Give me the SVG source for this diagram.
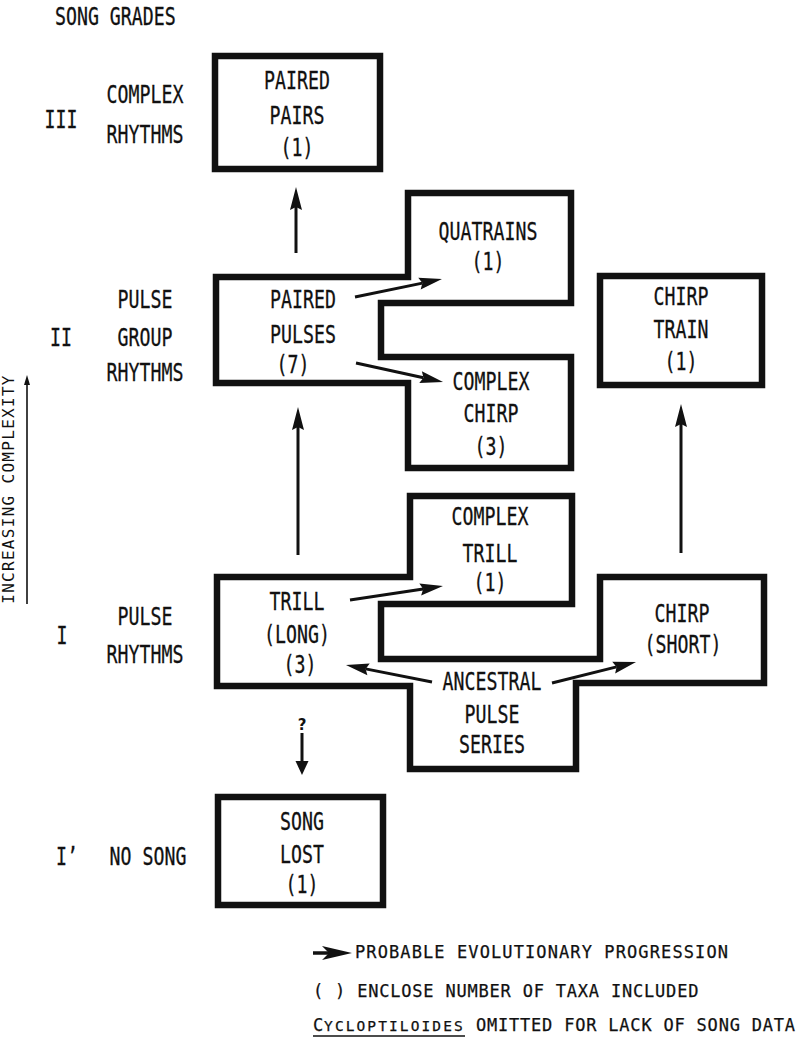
<svg xmlns="http://www.w3.org/2000/svg" width="798" height="1039" viewBox="0 0 798 1039">
<style>
.bg{fill:#fff}
.box{fill:none;stroke:#111;stroke-width:6.5;stroke-linejoin:miter}
.t{font-family:"DejaVu Sans Mono","Liberation Mono",monospace;font-size:24px;fill:#111;stroke:#111;stroke-width:0.3;text-anchor:middle}
.ts{font-family:"DejaVu Sans Mono","Liberation Mono",monospace;font-size:24px;fill:#111;stroke:#111;stroke-width:0.3;text-anchor:start}
.lg{font-family:"DejaVu Sans Mono","Liberation Mono",monospace;font-size:17px;fill:#111;stroke:#111;stroke-width:0.25;letter-spacing:0.8px}
.ax{font-family:"DejaVu Sans Mono","Liberation Mono",monospace;font-size:16px;fill:#111;letter-spacing:1.3px;text-anchor:middle}
.arr{stroke:#111;stroke-width:3;fill:none}
.thin{stroke:#111;stroke-width:1.6;fill:none}
</style>
<defs>
<marker id="ah" markerUnits="userSpaceOnUse" markerWidth="30" markerHeight="16" viewBox="0 -8 26 16" refX="3" refY="0" orient="auto">
<path d="M0,-6 L23,0 L0,6 L3,0 Z" fill="#111"/>
</marker>
<marker id="ahs" markerUnits="userSpaceOnUse" markerWidth="20" markerHeight="16" viewBox="0 -8 16 16" refX="1" refY="0" orient="auto">
<path d="M0,-6.5 L14,0 L0,6.5 Z" fill="#111"/>
</marker>
<marker id="axh" markerUnits="userSpaceOnUse" markerWidth="12" markerHeight="10" viewBox="0 -5 12 10" refX="1" refY="0" orient="auto">
<path d="M0,-3 L10,0 L0,3 Z" fill="#111"/>
</marker>
</defs>
<rect class="bg" x="0" y="0" width="798" height="1039"/>

<g id="grade-labels">
<text class="ts" transform="translate(55,25) scale(0.76,1)">SONG GRADES</text>
<text class="t" transform="translate(61,128) scale(0.76,1)">III</text>
<text class="t" transform="translate(145,103) scale(0.76,1)">COMPLEX</text>
<text class="t" transform="translate(145,143) scale(0.76,1)">RHYTHMS</text>
<text class="t" transform="translate(61,346) scale(0.76,1)">II</text>
<text class="t" transform="translate(145,308) scale(0.76,1)">PULSE</text>
<text class="t" transform="translate(145,346) scale(0.76,1)">GROUP</text>
<text class="t" transform="translate(145,381) scale(0.76,1)">RHYTHMS</text>
<text class="t" transform="translate(62,644) scale(0.76,1)">I</text>
<text class="t" transform="translate(145,625) scale(0.76,1)">PULSE</text>
<text class="t" transform="translate(145,663) scale(0.76,1)">RHYTHMS</text>
<text class="ts" transform="translate(56,865) scale(0.76,1)">I’</text>
<text class="t" transform="translate(148,865) scale(0.76,1)">NO SONG</text>
</g>

<g id="axis">
<line class="thin" x1="27" y1="604" x2="27" y2="384" marker-end="url(#axh)"/>
<text class="ax" transform="translate(14,489) rotate(-90)">INCREASING COMPLEXITY</text>
</g>

<g id="paired-pairs">
<rect class="box" x="215" y="56" width="165" height="113"/>
<text class="t" transform="translate(297,89) scale(0.76,1)">PAIRED</text>
<text class="t" transform="translate(297,124) scale(0.76,1)">PAIRS</text>
<text class="t" transform="translate(297,156) scale(0.76,1)">(1)</text>
</g>

<g id="grade2-cluster">
<path class="box" d="M216,277 H408 V193 H571 V303 H381 V357 H571 V468 H408 V383 H216 Z"/>
<g id="paired-pulses">
<text class="t" transform="translate(303,308) scale(0.76,1)">PAIRED</text>
<text class="t" transform="translate(303,343) scale(0.76,1)">PULSES</text>
<text class="t" transform="translate(293,373) scale(0.76,1)">(7)</text>
</g>
<g id="quatrains">
<text class="t" transform="translate(488,240) scale(0.76,1)">QUATRAINS</text>
<text class="t" transform="translate(488,270) scale(0.76,1)">(1)</text>
</g>
<g id="complex-chirp">
<text class="t" transform="translate(491,390) scale(0.76,1)">COMPLEX</text>
<text class="t" transform="translate(491,422) scale(0.76,1)">CHIRP</text>
<text class="t" transform="translate(491,455) scale(0.76,1)">(3)</text>
</g>
</g>

<g id="chirp-train">
<rect class="box" x="600" y="276" width="162" height="109"/>
<text class="t" transform="translate(681,305) scale(0.76,1)">CHIRP</text>
<text class="t" transform="translate(681,338) scale(0.76,1)">TRAIN</text>
<text class="t" transform="translate(681,370) scale(0.76,1)">(1)</text>
</g>

<g id="grade1-cluster">
<path class="box" d="M217,577 H410 V496 H572 V604 H381 V659 H600 V577 H764 V683 H576 V769 H410 V686 H217 Z"/>
<g id="trill-long">
<text class="t" transform="translate(297,610) scale(0.76,1)">TRILL</text>
<text class="t" transform="translate(297,643) scale(0.76,1)">(LONG)</text>
<text class="t" transform="translate(300,673) scale(0.76,1)">(3)</text>
</g>
<g id="complex-trill">
<text class="t" transform="translate(490,525) scale(0.76,1)">COMPLEX</text>
<text class="t" transform="translate(490,562) scale(0.76,1)">TRILL</text>
<text class="t" transform="translate(490,591) scale(0.76,1)">(1)</text>
</g>
<g id="chirp-short">
<text class="t" transform="translate(682,622) scale(0.76,1)">CHIRP</text>
<text class="t" transform="translate(683,653) scale(0.76,1)">(SHORT)</text>
</g>
<g id="ancestral-pulse-series">
<text class="t" transform="translate(492,690) scale(0.76,1)">ANCESTRAL</text>
<text class="t" transform="translate(492,723) scale(0.76,1)">PULSE</text>
<text class="t" transform="translate(492,753) scale(0.76,1)">SERIES</text>
</g>
</g>

<g id="song-lost">
<rect class="box" x="218" y="797" width="165" height="108"/>
<text class="t" transform="translate(302,830) scale(0.76,1)">SONG</text>
<text class="t" transform="translate(302,863) scale(0.76,1)">LOST</text>
<text class="t" transform="translate(302,893) scale(0.76,1)">(1)</text>
</g>

<g id="connectors">
<line class="arr" x1="296" y1="253" x2="296" y2="207" marker-end="url(#ah)"/>
<line class="arr" x1="298" y1="555" x2="298" y2="427" marker-end="url(#ah)"/>
<line class="arr" x1="681" y1="553" x2="681" y2="424" marker-end="url(#ah)"/>
<line class="arr" x1="355" y1="297" x2="422.4" y2="283.1" marker-end="url(#ah)"/>
<line class="arr" x1="356" y1="363" x2="423.5" y2="377.7" marker-end="url(#ah)"/>
<line class="arr" x1="350" y1="600" x2="423.2" y2="589" marker-end="url(#ah)"/>
<line class="arr" x1="432" y1="682" x2="365.6" y2="668.9" marker-end="url(#ah)"/>
<line class="arr" x1="552" y1="683" x2="616.6" y2="666.9" marker-end="url(#ah)"/>
<line class="arr" x1="302" y1="733" x2="302" y2="762" marker-end="url(#ahs)"/>
<text x="302" y="730" style="font-family:'DejaVu Sans','Liberation Sans',sans-serif;font-size:15px;font-weight:bold;fill:#111;text-anchor:middle">?</text>
</g>

<g id="legend">
<line x1="313" y1="953" x2="330" y2="953" stroke="#111" stroke-width="3.5"/>
<path d="M352,953 L322,946 L329,953 L322,960 Z" fill="#111"/>
<text class="lg" x="355" y="958" style="letter-spacing:1.1px">PROBABLE EVOLUTIONARY PROGRESSION</text>
<text class="lg" x="313" y="997">( ) ENCLOSE NUMBER OF TAXA INCLUDED</text>
<text class="lg" x="313" y="1031">C<tspan style="font-size:14.5px;letter-spacing:2.1px">YCLOPTILOIDES</tspan> OMITTED FOR LACK OF SONG DATA</text>
<line x1="313" y1="1036" x2="465" y2="1036" stroke="#111" stroke-width="1.4"/>
</g>
</svg>
